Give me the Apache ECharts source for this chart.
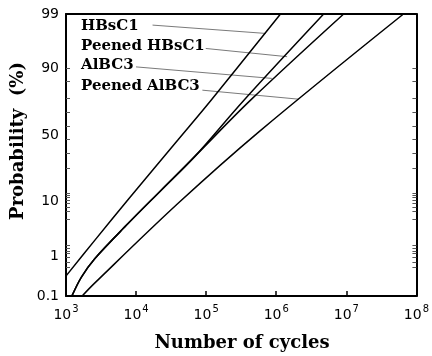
<!DOCTYPE html>
<html><head><meta charset="utf-8">
<script src="https://cdn.jsdelivr.net/npm/echarts@6/dist/echarts.min.js"></script>
<style>html,body{margin:0;padding:0;background:#fff}#c{width:432px;height:356px}</style>
</head><body><div id="c"></div>
<script>
// ---- data (cycles, failure probability in %) ----
const seriesNames = ['HBsC1', 'Peened HBsC1', 'AlBC3', 'Peened AlBC3'];
const cyclesHBsC1 = [1016, 2570, 7870, 39170, 117500, 1150000];
const probHBsC1   = [0.353, 2.16, 11.1, 46.1, 74.9, 99];
const cyclesPeenedHBsC1 = [1225, 1660, 2570, 7674, 22800, 67900, 346000, 4750000];
const probPeenedHBsC1   = [0.104, 0.32, 0.88, 4.46, 14.5, 33.8, 74.9, 99];
const cyclesAlBC3 = [1225, 1660, 2570, 7674, 22800, 67900, 430000, 9160000];
const probAlBC3   = [0.104, 0.32, 0.88, 4.46, 14.5, 33.8, 74.9, 99];
const cyclesPeenedAlBC3 = [1700, 2541, 39450, 565000, 65300000];
const probPeenedAlBC3   = [0.1, 0.22, 9.43, 52.5, 99];
// leader lines: [label end, curve point]
const leaderCycles = [[17180, 705000], [98600, 1430000], [9970, 865000], [88300, 2090000]];
const leaderProb   = [[98.27, 97.46], [95.2, 93.4], [90.5, 86.2], [80.6, 75.5]];
// axis ticks
const yTickLabels = [0.1, 1, 10, 50, 90, 99];
const yMinorTicks = [90, 85, 76, 67, 57, 47, 36.6, 26, 13.3, 12.3, 11.5, 10.5, 9.6, 8.4, 7.1, 5.4, 1.69, 1.48, 1.3, 1.14, 0.96, 0.75, 0.56];
const xMin = 1e3, xMax = 1e8;

// inverse normal CDF (probability scale)
function qnorm(p){
  const a=[-3.969683028665376e+01,2.209460984245205e+02,-2.759285104469687e+02,1.383577518672690e+02,-3.066479806614716e+01,2.506628277459239e+00];
  const b=[-5.447609879822406e+01,1.615858368580409e+02,-1.556989798598866e+02,6.680131188771972e+01,-1.328068155288572e+01];
  const c=[-7.784894002430293e-03,-3.223964580411365e-01,-2.400758277161838e+00,-2.549732539343734e+00,4.374664141464968e+00,2.938163982698783e+00];
  const d=[7.784695709041462e-03,3.224671290700398e-01,2.445134137142996e+00,3.754408661907416e+00];
  const pl=0.02425;
  let q,r;
  if(p<pl){q=Math.sqrt(-2*Math.log(p));return (((((c[0]*q+c[1])*q+c[2])*q+c[3])*q+c[4])*q+c[5])/((((d[0]*q+d[1])*q+d[2])*q+d[3])*q+1);}
  if(p<=1-pl){q=p-0.5;r=q*q;return (((((a[0]*r+a[1])*r+a[2])*r+a[3])*r+a[4])*r+a[5])*q/(((((b[0]*r+b[1])*r+b[2])*r+b[3])*r+b[4])*r+1);}
  q=Math.sqrt(-2*Math.log(1-p));return -(((((c[0]*q+c[1])*q+c[2])*q+c[3])*q+c[4])*q+c[5])/((((d[0]*q+d[1])*q+d[2])*q+d[3])*q+1);
}
const z = pct => qnorm(pct/100);
const pairs = (xs, ps) => xs.map((x,i)=>[x, z(ps[i])]);

const curves = [
  pairs(cyclesHBsC1, probHBsC1),
  pairs(cyclesPeenedHBsC1, probPeenedHBsC1),
  pairs(cyclesAlBC3, probAlBC3),
  pairs(cyclesPeenedAlBC3, probPeenedAlBC3)
];
const labelZ = yTickLabels.map(z);
const tickZ = yMinorTicks.map(z);
const yMin = z(0.1), yMax = z(99);

const serifBold = '"DejaVu Serif", serif';
const sans = '"DejaVu Sans", sans-serif';

const chart = echarts.init(document.getElementById('c'), null, {renderer:'canvas'});

const series = [];
curves.forEach((d,i)=>{
  series.push({type:'line', name:seriesNames[i], data:d, smooth:0.35, symbol:'none', silent:true,
    lineStyle:{color:'#000', width:1.5}, xAxisIndex:0, yAxisIndex:0, z:3});
});
leaderCycles.forEach((cs,i)=>{
  series.push({type:'line', data:cs.map((c,j)=>[c, z(leaderProb[i][j])]), symbol:'none', silent:true,
    lineStyle:{color:'#7a7a7a', width:1}, xAxisIndex:0, yAxisIndex:0, z:2});
});

const yTickCommon = {show:true, inside:true, length:4, customValues:tickZ, lineStyle:{color:'#555', width:1}};

chart.setOption({
  animation:false,
  backgroundColor:'#fff',
  grid:{left:66, right:14, top:14, bottom:60, containLabel:false},
  xAxis:[
    {type:'log', logBase:10, min:xMin, max:xMax, position:'bottom',
     axisLine:{show:true, onZero:false, lineStyle:{color:'#000', width:2}},
     axisTick:{show:true, inside:true, length:5, lineStyle:{color:'#000', width:1.5}},
     minorTick:{show:false}, splitLine:{show:false},
     axisLabel:{margin:8, color:'#000',
       formatter: v => '{b|10}{s|' + Math.round(Math.log10(v)) + '}',
       rich:{b:{fontSize:14, fontFamily:sans, color:'#000', verticalAlign:'bottom', lineHeight:18},
             s:{fontSize:10, fontFamily:sans, color:'#000', verticalAlign:'top', lineHeight:18, padding:[0,0,6,1]}}}},
    {type:'log', logBase:10, min:xMin, max:xMax, position:'top',
     axisLine:{show:true, onZero:false, lineStyle:{color:'#000', width:2}},
     axisTick:{show:false}, axisLabel:{show:false}, splitLine:{show:false}}
  ],
  yAxis:[
    {type:'value', min:yMin, max:yMax, position:'left',
     axisLine:{show:true, onZero:false, lineStyle:{color:'#000', width:2}},
     axisTick:yTickCommon, splitLine:{show:false},
     axisLabel:{customValues:labelZ, margin:7, fontSize:14, fontFamily:sans, color:'#000',
       formatter: v => { let best=0; labelZ.forEach((lz,i)=>{ if(Math.abs(lz-v)<Math.abs(labelZ[best]-v)) best=i; }); return String(yTickLabels[best]); }}},
    {type:'value', min:yMin, max:yMax, position:'right',
     axisLine:{show:true, onZero:false, lineStyle:{color:'#000', width:2}},
     axisTick:yTickCommon, splitLine:{show:false}, axisLabel:{show:false}}
  ],
  graphic:[
    {type:'text', left:81, top:19, style:{text:seriesNames[0], font:'bold 15px '+serifBold, fill:'#000'}},
    {type:'text', left:81, top:39, style:{text:seriesNames[1], font:'bold 15px '+serifBold, fill:'#000'}},
    {type:'text', left:81, top:58, style:{text:seriesNames[2], font:'bold 15px '+serifBold, fill:'#000'}},
    {type:'text', left:81, top:79, style:{text:seriesNames[3], font:'bold 15px '+serifBold, fill:'#000'}},
    {type:'text', x:242, y:343, style:{text:'Number of cycles', font:'bold 18px '+serifBold, fill:'#000', align:'center', verticalAlign:'middle'}},
    {type:'text', x:18, y:141, rotation:Math.PI/2, style:{text:'Probability  (%)', font:'bold 18px '+serifBold, fill:'#000', align:'center', verticalAlign:'middle'}}
  ],
  series: series
});
</script></body></html>
